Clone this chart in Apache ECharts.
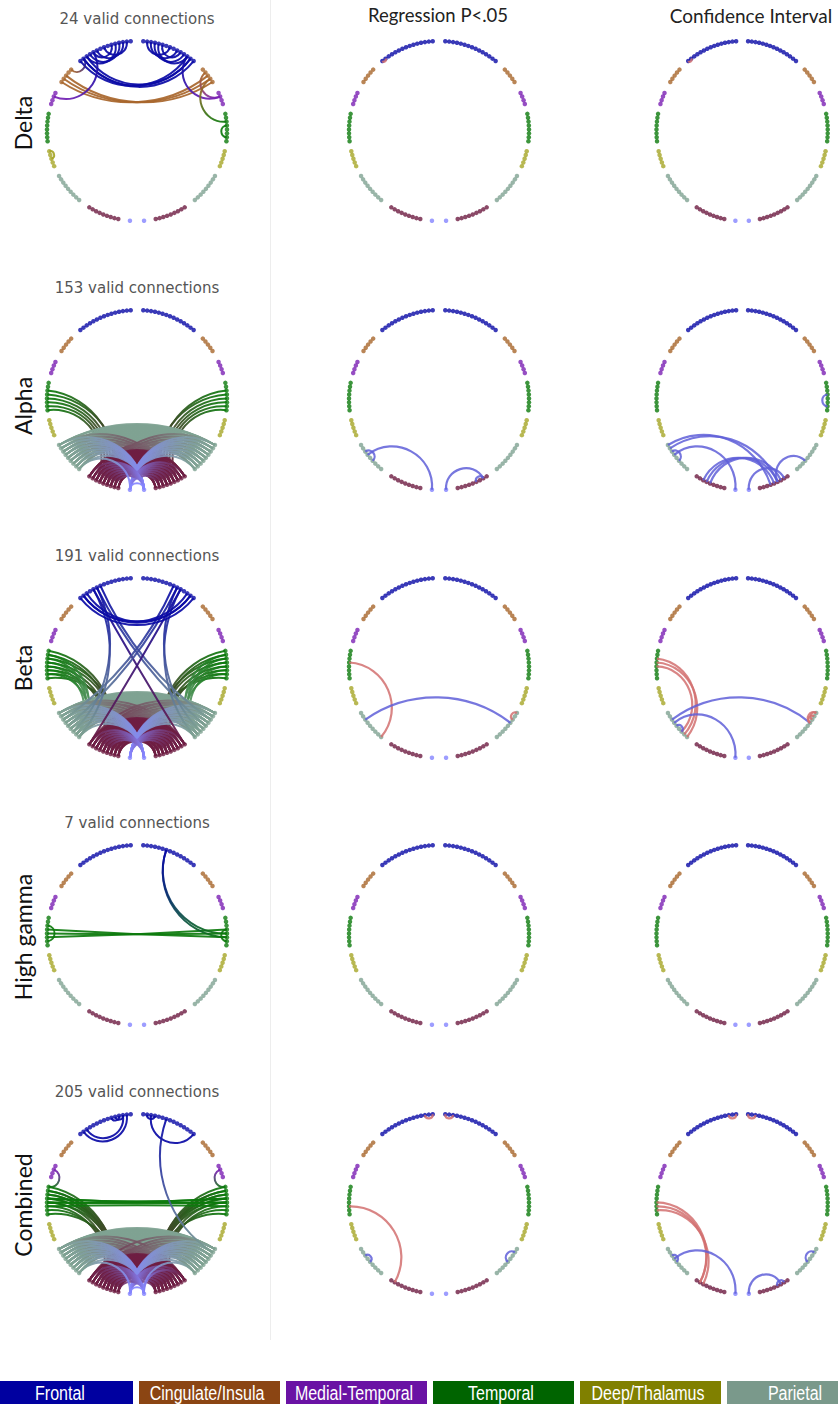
<!DOCTYPE html>
<html>
<head>
<meta charset="utf-8">
<script src="https://cdn.jsdelivr.net/npm/echarts@6/dist/echarts.min.js"></script>
<style>
  html, body { margin: 0; padding: 0; background: #ffffff; }
  #chart { width: 838px; height: 1405px; }
</style>
</head>
<body>
<div id="chart"></div>
<script>
// ---- Ring layout: regions listed from the top of the right hemisphere downwards; the left hemisphere mirrors it
const regionKeys   = ['F', 'C', 'M', 'T', 'D', 'P', 'O', 'V'];
const nodeCounts   = [15, 5, 4, 8, 5, 9, 9, 1];
const segmentStart = [4, 47, 65, 79, 103, 120, 148, 175.5];   // degrees clockwise from the top
const nodeStep     = 2.5;                                     // degrees between neighbouring nodes
const nodeColors   = ['#0a0aa6', '#a8662c', '#7c22b4', '#0c7a0c', '#a6a628', '#7fa292', '#6e1d42', '#8585ff'];

// ---- Legend
const legendNames  = ['Frontal', 'Cingulate/Insula', 'Medial-Temporal', 'Temporal', 'Deep/Thalamus', 'Parietal'];
const legendColors = ['#0000a0', '#8b4513', '#6a12a4', '#006400', '#808000', '#7a998b'];

// ---- Rows and columns
const bandNames    = ['Delta', 'Alpha', 'Beta', 'High gamma', 'Combined'];
const columnTitles = ['', 'Regression P<.05', 'Confidence Interval'];

// ---- Valid connections: [from segment, to segment, node index pairs (base-36 digits)]
const deltaLinks = [
  ['LF', 'LF', '29 3b 17 4c 5a'],
  ['RF', 'RF', '29 3b 17 4c 5a'],
  ['LF', 'RF', 'cd de ec dd'],
  ['LC', 'RC', '24 42 33'],
  ['LC', 'LF', '0d'],
  ['RC', 'RM', '11'],
  ['LM', 'LF', '1a'],
  ['RM', 'RF', '1c'],
  ['RT', 'RC', '23'],
  ['RT', 'RT', '36'],
  ['LD', 'LD', '02']
];

const alphaLinks = [
  ['LT', 'LO', '26 37 45 54 63 72'],
  ['RT', 'RO', '26 37 45 54 63 72'],
  ['LP', 'RP', '00 01 02 10 11 12 13 20 21 22 23 24 31 32 33 34 35 42 43 44 45 46 53 54 55 56 57 64 65 66 67 68 75 76 77 78 86 87 88 30'],
  ['LP', 'RO', '03 14 25 36 47 58 60 71 82 80'],
  ['RP', 'LO', '03 14 25 36 47 58 60 71 82 80'],
  ['LO', 'RO', '00 01 02 10 11 12 13 20 21 22 23 24 31 32 33 34 35 42 43 44 45 46 53 54 55 56 57 64 65 66 67 68 75 76 77 78 86 87 88 03 30 14 41 58 85'],
  ['LV', 'RP', '00 01 02 03 04 05 06 07 08'],
  ['RV', 'LP', '00 01 02 03 04 05 06 07 08'],
  ['LV', 'RO', '00 01 02 03 04 05 06 07'],
  ['RV', 'LO', '00 01 02 03 04 05 06 07'],
  ['LV', 'RV', '00'],
  ['LV', 'LP', '08']
];

const betaLinks = [
  ['LT', 'LO', '06 15 27 36 44 53 65 78'],
  ['RT', 'RO', '06 15 27 36 44 53 65 78'],
  ['LT', 'LP', '17 26 38 47 56 68'],
  ['RT', 'RP', '17 26 38 47 56 68'],
  ['LP', 'RP', '00 01 02 10 11 12 13 20 21 22 23 24 31 32 33 34 35 42 43 44 45 46 53 54 55 56 57 64 65 66 67 68 75 76 77 78 86 87 88 03 30 14 41 25 52 36 63 47 74 58'],
  ['LP', 'RO', '03 14 25 36 47 58 60 71 82 80 00 11'],
  ['RP', 'LO', '03 14 25 36 47 58 60 71 82 80 00 11'],
  ['LO', 'RO', '00 01 02 10 11 12 13 20 21 22 23 24 31 32 33 34 35 42 43 44 45 46 53 54 55 56 57 64 65 66 67 68 75 76 77 78 86 87 88 03 30 14 41 58 85'],
  ['LV', 'RP', '00 01 02 03 04 05 06 07 08'],
  ['RV', 'LP', '00 01 02 03 04 05 06 07 08'],
  ['LV', 'RO', '00 01 02 03 04 05'],
  ['RV', 'LO', '00 01 02 03 04 05'],
  ['LF', 'RP', '82 94'],
  ['LF', 'RO', 'a0'],
  ['RF', 'LP', '82 94'],
  ['RF', 'LO', 'a0'],
  ['LF', 'LP', '96 a8'],
  ['RF', 'RP', '96 a8'],
  ['LF', 'RF', 'cd dc ee dd']
];

const gammaLinks = [
  ['LT', 'RT', '44 35 53'],
  ['LT', 'LT', '26'],
  ['RT', 'RT', '36'],
  ['RF', 'RT', '64 65']
];

const combinedLinks = [
  ['LT', 'LO', '06 15 27 36 44 53 65 78 17 26 38 47'],
  ['RT', 'RO', '06 15 27 36 44 53 65 78 17 26 38 47'],
  ['LP', 'RP', '00 01 02 10 11 12 13 20 21 22 23 24 31 32 33 34 35 42 43 44 45 46 53 54 55 56 57 64 65 66 67 68 75 76 77 78 86 87 88 03 30 14 41 25 52 36 63 47 74 58 04 40 15 51 26'],
  ['LP', 'RO', '03 14 25 36 47 58 60 71 82 80 00'],
  ['RP', 'LO', '03 14 25 36 47 58 60 71 82 80 00'],
  ['LO', 'RO', '00 01 02 10 11 12 13 20 21 22 23 24 31 32 33 34 35 42 43 44 45 46 53 54 55 56 57 64 65 66 67 68 75 76 77 78 86 87 88 03 30 14 41 58 85 04 40 15 51 26'],
  ['LV', 'RP', '00 01 02 03 04 05 06 07 08'],
  ['RV', 'LP', '00 01 02 03 04 05 06 07 08'],
  ['LV', 'RO', '00 01 02 03 04 05 06 07 08'],
  ['RV', 'LO', '00 01 02 03 04 05 06 07 08'],
  ['LV', 'RV', '00'],
  ['LV', 'LP', '08'],
  ['RV', 'RP', '08'],
  ['RV', 'RO', '00'],
  ['LT', 'RT', '33 44 55 34 43'],
  ['LM', 'LT', '10'],
  ['RM', 'RT', '10'],
  ['LF', 'LF', '1d 2c 35 24'],
  ['RF', 'RF', '13 2e'],
  ['RF', 'RP', '61']
];

// ---- Significant connections: [from, to, pairs, sign]
const deltaReg    = [['LF', 'LF', 'de', 'pos']];
const deltaCI     = [['LF', 'LF', 'de', 'pos']];
const alphaReg    = [['LP', 'LV', '30', 'neg'], ['LP', 'LP', '25', 'neg'], ['RV', 'RO', '01', 'neg'], ['RO', 'RO', '13', 'neg']];
const alphaCI     = [['LP', 'LV', '30', 'neg'], ['LP', 'LP', '25', 'neg'], ['LP', 'RO', '13 05', 'neg'], ['LO', 'RO', '24 42 33', 'neg'],
                     ['RO', 'RP', '35', 'neg'], ['RV', 'RO', '01', 'neg'], ['RT', 'RT', '36', 'neg']];
const betaReg     = [['LT', 'LP', '38', 'pos'], ['LP', 'RP', '23', 'neg'], ['RP', 'RP', '02', 'pos']];
const betaCI      = [['LT', 'LP', '38 27 46', 'pos'], ['LP', 'RP', '23', 'neg'], ['LP', 'LV', '30', 'neg'], ['LP', 'LP', '46', 'neg'],
                     ['RP', 'RP', '02 13 03', 'pos']];
const gammaReg    = [];
const gammaCI     = [];
const combinedReg = [['LF', 'LF', '02', 'pos'], ['RF', 'RF', '02', 'pos'], ['LT', 'LO', '51', 'pos'], ['LP', 'LP', '24', 'neg'], ['RP', 'RP', '14', 'neg']];
const combinedCI  = [['LF', 'LF', '02', 'pos'], ['RF', 'RF', '02', 'pos'], ['LT', 'LO', '41 51 62', 'pos'], ['LP', 'LP', '24', 'neg'],
                     ['LP', 'LV', '30', 'neg'], ['RP', 'RP', '14', 'neg'], ['RV', 'RO', '02', 'neg'], ['RO', 'RO', '13', 'neg']];

const panelLinks = [
  [deltaLinks, deltaReg, deltaCI],
  [alphaLinks, alphaReg, alphaCI],
  [betaLinks, betaReg, betaCI],
  [gammaLinks, gammaReg, gammaCI],
  [combinedLinks, combinedReg, combinedCI]
];

// ---- Layout
const ringRadius = 90;
const span = 1.12;
const colCenters = [137, 439, 747];
const rowCenters = [131, 400, 668, 935, 1204];
const labelShift = [-8, 6, 0, 2, 1];
const signColors = { pos: '#d27070', neg: '#5f5fd8' };

function nodePoint(id, idx) {
  const k = regionKeys.indexOf(id[1]);
  const deg = (segmentStart[k] + idx * nodeStep) * (id[0] === 'L' ? -1 : 1);
  const t = deg * Math.PI / 180;
  return [Math.sin(t), Math.cos(t)];
}

function expandLinks(bundles) {
  const out = [];
  bundles.forEach(([a, b, pairs, sign]) => {
    pairs.split(' ').forEach(p => {
      const pa = nodePoint(a, parseInt(p[0], 36));
      const pb = nodePoint(b, parseInt(p[1], 36));
      out.push({
        value: [pa[0], pa[1], pb[0], pb[1]],
        ca: nodeColors[regionKeys.indexOf(a[1])],
        cb: nodeColors[regionKeys.indexOf(b[1])],
        sign: sign
      });
    });
  });
  return out;
}

const ringNodes = [];
['L', 'R'].forEach(side => {
  regionKeys.forEach((key, k) => {
    for (let i = 0; i < nodeCounts[k]; i++) {
      ringNodes.push({ value: nodePoint(side + key, i), itemStyle: { color: nodeColors[k] } });
    }
  });
});

function linkRenderer(edges, col) {
  return function (params, api) {
    const e = edges[params.dataIndex];
    const [x1, y1, x2, y2] = e.value;
    const t1 = Math.atan2(x1, y1), t2 = Math.atan2(x2, y2);
    let d = Math.abs(t1 - t2);
    if (d > Math.PI) d = 2 * Math.PI - d;
    // handle length of a circular arc meeting the ring at right angles
    const h = d > 3.1 ? 2 / 3 : (4 / 3) * Math.tan((Math.PI - d) / 4) * Math.tan(d / 2);
    const p0 = api.coord([x1, y1]);
    const p3 = api.coord([x2, y2]);
    const p1 = api.coord([x1 * (1 - h), y1 * (1 - h)]);
    const p2 = api.coord([x2 * (1 - h), y2 * (1 - h)]);
    const stroke = col === 0
      ? new echarts.graphic.LinearGradient(p0[0], p0[1], p3[0], p3[1],
          [{ offset: 0, color: e.ca }, { offset: 1, color: e.cb }], true)
      : signColors[e.sign];
    return {
      type: 'bezierCurve',
      shape: { x1: p0[0], y1: p0[1], x2: p3[0], y2: p3[1], cpx1: p1[0], cpy1: p1[1], cpx2: p2[0], cpy2: p2[1] },
      style: { stroke: stroke, fill: 'none', lineWidth: col === 0 ? 2 : 2.2, opacity: col === 0 ? 0.92 : 0.85 }
    };
  };
}

const grids = [], xAxes = [], yAxes = [], series = [], graphics = [];

function addText(x, y, text, font, fill, rotation, scaleX) {
  graphics.push({
    type: 'text', x: x, y: y, rotation: rotation || 0, scaleX: scaleX || 1, silent: true,
    style: { text: text, font: font, fill: fill, align: 'center', verticalAlign: 'middle',
             textAlign: 'center', textVerticalAlign: 'middle' }
  });
}

// faint separator next to the first column
graphics.push({ type: 'line', silent: true, shape: { x1: 270.5, y1: 0, x2: 270.5, y2: 1340 },
                style: { stroke: '#ededed', lineWidth: 1 } });

rowCenters.forEach((cy, r) => {
  colCenters.forEach((cx, c) => {
    const g = grids.length;
    const half = span * ringRadius;
    grids.push({ left: cx - half, top: cy - half, width: 2 * half, height: 2 * half, show: false });
    xAxes.push({ gridIndex: g, type: 'value', min: -span, max: span, show: false });
    yAxes.push({ gridIndex: g, type: 'value', min: -span, max: span, show: false });

    const edges = expandLinks(panelLinks[r][c]);
    series.push({
      type: 'scatter', xAxisIndex: g, yAxisIndex: g, data: ringNodes, symbolSize: 4.5,
      silent: true, clip: false, z: 2, animation: false
    });
    series.push({
      type: 'custom', xAxisIndex: g, yAxisIndex: g, data: edges.map(e => e.value),
      encode: { x: [0, 2], y: [1, 3] }, renderItem: linkRenderer(edges, c),
      silent: true, clip: false, z: 3, animation: false
    });

    if (c === 0) {
      addText(cx, cy - 112, edges.length + ' valid connections', '15px "DejaVu Sans"', '#555555');
    }
  });
  addText(23, cy + labelShift[r], bandNames[r], '23px Lato', '#111111', Math.PI / 2);
});

addText(438, 15, columnTitles[1], '18.5px Lato', '#222222');
addText(751, 15, columnTitles[2], '19px Lato', '#222222');

legendNames.forEach((name, i) => {
  const x = -8 + 147 * i;
  graphics.push({ type: 'rect', silent: true, shape: { x: x, y: 1381, width: 141, height: 23 },
                  style: { fill: legendColors[i] } });
  addText(x + 68, 1393, name, '20px "Liberation Sans"', '#ffffff', 0, 0.8);
});

const chart = echarts.init(document.getElementById('chart'), null, { renderer: 'svg', width: 838, height: 1405 });
chart.setOption({
  backgroundColor: '#ffffff',
  animation: false,
  grid: grids,
  xAxis: xAxes,
  yAxis: yAxes,
  series: series,
  graphic: graphics
});
</script>
</body>
</html>
